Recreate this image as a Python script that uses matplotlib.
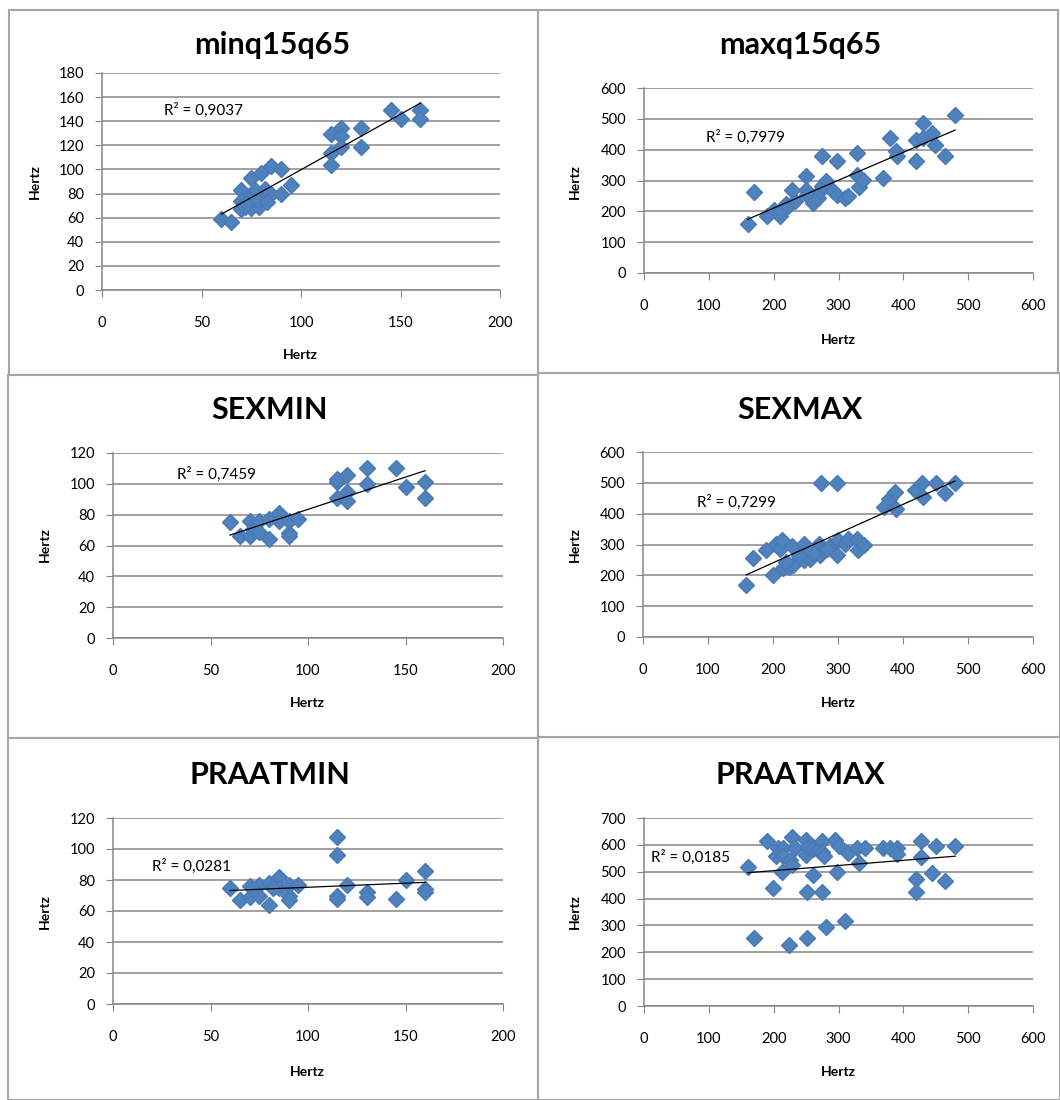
import numpy as np
import matplotlib
matplotlib.use("Agg")
import matplotlib.pyplot as plt
from matplotlib.patches import Rectangle

plt.rcParams['font.family'] = ['Lato', 'DejaVu Sans']

# ---- data ----
minq_x = [60, 65, 70, 70, 70, 72, 75, 75, 75, 77, 79, 80, 80, 85, 85, 90, 90, 95,
          115, 115, 115, 120, 120, 120, 130, 130, 145, 150, 160, 160, 73, 78, 82, 83]
minq_y = [59, 56, 83, 74, 67, 69, 93, 78, 68, 83, 69, 97, 76, 103, 80, 100, 80, 87,
          129, 114, 104, 134, 128, 119, 134, 119, 149, 142, 149, 142, 72, 75, 84, 73]

maxq_x = [160, 170, 190, 200, 210, 212, 219, 222, 229, 233, 250, 250, 251, 260, 269,
          271, 275, 275, 281, 292, 298, 298, 310, 315, 328, 329, 331, 338, 369, 379,
          389, 390, 420, 420, 430, 431, 444, 449, 464, 480]
maxq_y = [159, 262, 186, 205, 184, 202, 225, 216, 270, 232, 316, 270, 254, 227, 243,
          265, 378, 281, 297, 267, 362, 254, 243, 249, 389, 319, 279, 303, 308, 438,
          395, 378, 362, 432, 486, 438, 454, 416, 380, 511]

sexmin_x = [60, 65, 70, 70, 72, 75, 75, 80, 80, 85, 85, 90, 90, 90, 95,
            115, 115, 115, 120, 120, 120, 130, 130, 145, 150, 160, 160]
sexmin_y = [75, 66, 76, 66, 71, 76, 69, 77, 64, 81, 76, 76, 68, 66, 77,
            101, 91, 103, 106, 95, 89, 110, 100, 110, 98, 101, 91]

sexmax_x = [159, 169, 189, 200, 205, 210, 215, 214, 224, 229, 231, 247, 247, 257, 270,
            272, 274, 277, 288, 298, 298, 300, 311, 315, 329, 330, 340, 370, 378, 388,
            389, 419, 429, 431, 450, 465, 480, 240, 262, 283, 220]
sexmax_y = [170, 256, 281, 202, 303, 286, 224, 313, 227, 294, 235, 303, 251, 254, 303,
            265, 500, 281, 294, 500, 265, 313, 303, 319, 319, 281, 300, 422, 449, 470,
            416, 476, 500, 454, 500, 467, 500, 262, 272, 287, 244]

praatmin_x = [60, 65, 70, 70, 75, 75, 80, 80, 85, 85, 90, 90, 90, 95,
              115, 115, 115, 115, 120, 130, 130, 145, 150, 160, 160, 160, 72, 82]
praatmin_y = [75, 67, 76, 69, 77, 70, 78, 64, 82, 75, 77, 70, 67, 77,
              108, 96, 70, 68, 77, 72, 69, 68, 80, 86, 74, 72, 74, 75]

praatmax_x = [160, 170, 190, 199, 204, 207, 213, 215, 215, 224, 225, 229, 229, 233, 250,
              250, 251, 251, 253, 260, 261, 269, 274, 275, 275, 277, 280, 294, 297, 300,
              310, 315, 328, 331, 341, 369, 379, 390, 390, 420, 420, 428, 428, 444, 450,
              464, 480]
praatmax_y = [519, 255, 613, 438, 557, 588, 500, 588, 560, 227, 544, 631, 525, 590, 619,
              563, 424, 254, 588, 486, 584, 582, 613, 424, 575, 557, 295, 619, 500, 594,
              316, 569, 590, 532, 590, 588, 588, 590, 565, 473, 424, 616, 553, 494, 594,
              466, 594]

titles = ['minq15q65', 'maxq15q65', 'SEXMIN', 'SEXMAX', 'PRAATMIN', 'PRAATMAX']
r2_labels = ['R² = 0,9037', 'R² = 0,7979', 'R² = 0,7459', 'R² = 0,7299',
             'R² = 0,0281', 'R² = 0,0185']
xs = [minq_x, maxq_x, sexmin_x, sexmax_x, praatmin_x, praatmax_x]
ys = [minq_y, maxq_y, sexmin_y, sexmax_y, praatmin_y, praatmax_y]
x_max = [200, 600, 200, 600, 200, 600]
x_step = [50, 100, 50, 100, 50, 100]
y_max = [180, 600, 120, 600, 120, 700]
y_step = [20, 100, 20, 100, 20, 100]

# ---- layout in pixels ----
W, H = 1060, 1100
fig = plt.figure(figsize=(W / 100, H / 100), dpi=100)

def fx(px):
    return px / W

def fy(py):
    return 1 - py / H

boxes = [(9, 10, 538, 375), (538, 10, 1058, 373),
         (8, 375, 538, 738), (538, 373, 1060, 737),
         (8, 738, 538, 1100), (538, 737, 1060, 1100)]
axes_px = [(102, 73, 500, 290), (644, 88, 1033, 273),
           (113, 453, 503, 638), (643, 452, 1033, 637),
           (113, 818, 503, 1004), (644, 818, 1033, 1006)]
title_pos = [(272, 45), (800, 45), (270, 410), (800, 410), (270, 775), (800, 775)]
xlab_pos = [(300, 355), (838, 340), (307, 703), (838, 703), (307, 1072), (838, 1072)]
ylab_pos = [(35, 182), (575, 182), (45, 545), (575, 545), (45, 912), (575, 912)]
r2_pos = [(31, 149), (96, 441), (33, 106), (83, 438), (20, 89), (11, 552)]

for (l, t, r, b) in boxes:
    fig.patches.append(Rectangle((fx(l), fy(b)), fx(r) - fx(l), fy(t) - fy(b),
                                 transform=fig.transFigure, fill=False,
                                 edgecolor='#a6a6a6', linewidth=1.5))

grey = '#868686'
blue = '#4f81bd'
for i in range(6):
    l, t, r, b = axes_px[i]
    ax = fig.add_axes([fx(l), fy(b), fx(r) - fx(l), fy(t) - fy(b)])
    x = np.array(xs[i], dtype=float)
    y = np.array(ys[i], dtype=float)
    ax.plot(x, y, linestyle='none', marker='D', markersize=8,
            color=blue, markeredgecolor='#4a7ab5', zorder=3)
    slope, icpt = np.polyfit(x, y, 1)
    xl = np.array([x.min(), x.max()])
    ax.plot(xl, slope * xl + icpt, color='black', linewidth=0.9, zorder=4)
    ax.text(r2_pos[i][0], r2_pos[i][1], r2_labels[i], fontsize=11,
            ha='left', va='center', zorder=5)

    ax.set_xlim(0, x_max[i])
    ax.set_ylim(0, y_max[i])
    ax.set_xticks(np.arange(0, x_max[i] + 1, x_step[i]))
    ax.set_yticks(np.arange(0, y_max[i] + 1, y_step[i]))
    ax.grid(axis='y', color=grey, linewidth=1.1)
    ax.set_axisbelow(True)
    for s in ['top', 'right']:
        ax.spines[s].set_visible(False)
    for s in ['left', 'bottom']:
        ax.spines[s].set_color(grey)
        ax.spines[s].set_linewidth(1.1)
    ax.tick_params(axis='x', direction='out', length=5, color=grey,
                   labelsize=10.5, pad=14)
    ax.tick_params(axis='y', direction='out', length=5, color=grey,
                   labelsize=10.5, pad=8)

    fig.text(fx(title_pos[i][0]), fy(title_pos[i][1]), titles[i], fontsize=22,
             fontweight='bold', ha='center', va='center')
    fig.text(fx(xlab_pos[i][0]), fy(xlab_pos[i][1]), 'Hertz', fontsize=10,
             fontweight='bold', ha='center', va='center')
    fig.text(fx(ylab_pos[i][0]), fy(ylab_pos[i][1]), 'Hertz', fontsize=10,
             fontweight='bold', ha='center', va='center', rotation=90)

fig.savefig('out.png', dpi=100)
